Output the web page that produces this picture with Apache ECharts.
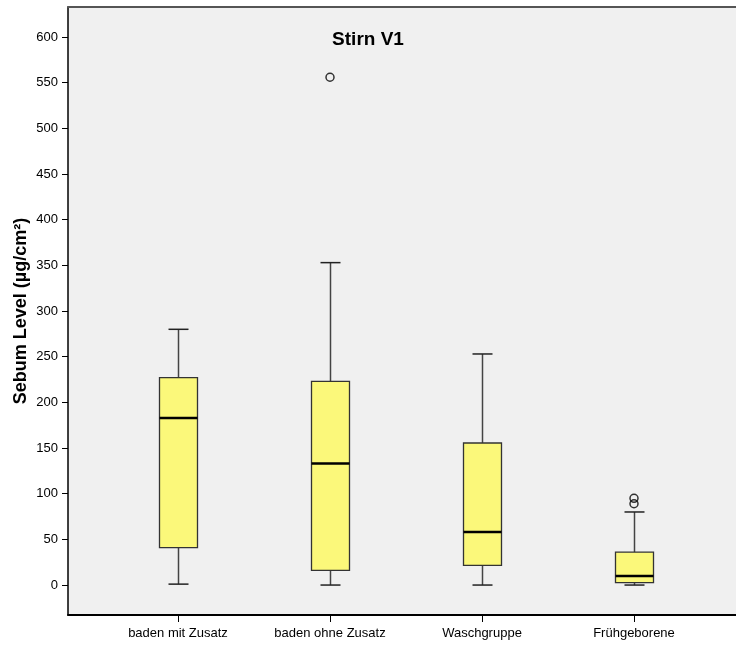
<!DOCTYPE html>
<html>
<head>
<meta charset="utf-8">
<style>
html,body{margin:0;padding:0;background:#fff;}
#chart{width:736px;height:646px;}
</style>
<script src="https://cdn.jsdelivr.net/npm/echarts@6/dist/echarts.min.js"></script>
</head>
<body>
<div id="chart"></div>
<script>
const categories = ['baden mit Zusatz', 'baden ohne Zusatz', 'Waschgruppe', 'Frühgeborene'];
// [min, Q1, median, Q3, max] per category
const boxMin    = [1, 0, 0, 0];
const boxQ1     = [41, 16, 21.5, 2.6];
const boxMedian = [183, 133, 58, 10];
const boxQ3     = [227, 223, 155.5, 36];
const boxMax    = [280, 353, 253, 80];
const outliers  = [[1, 556], [3, 95], [3, 89]];
const yTicks    = [0, 50, 100, 150, 200, 250, 300, 350, 400, 450, 500, 550, 600];
const titleText = 'Stirn V1';
const yName     = 'Sebum Level (µg/cm²)';

const FONT = "'Liberation Sans', Arial, Helvetica, sans-serif";
const Y_MIN = -32.8, Y_MAX = 632.9;

const boxData = categories.map((c, i) => [i, boxMin[i], boxQ1[i], boxMedian[i], boxQ3[i], boxMax[i]]);

const chart = echarts.init(document.getElementById('chart'), null, {renderer: 'canvas'});
chart.setOption({
  backgroundColor: '#ffffff',
  animation: false,
  title: {
    text: titleText,
    left: 'center',
    top: 30,
    padding: 0,
    textStyle: {fontFamily: FONT, fontSize: 19, fontWeight: 'bold', color: '#000'}
  },
  grid: [
    {left: 68, top: 7, right: 0, bottom: 31, show: true, backgroundColor: '#f0f0f0', borderWidth: 0},
    {left: 102, top: 7, right: 26, bottom: 31, show: false}
  ],
  xAxis: [
    {gridIndex: 0, type: 'value', min: 0, max: 1, position: 'bottom',
     axisLine: {show: true, onZero: false, lineStyle: {color: '#000', width: 2}},
     axisTick: {show: false}, axisLabel: {show: false}, splitLine: {show: false}},
    {gridIndex: 0, type: 'value', min: 0, max: 1, position: 'top',
     axisLine: {show: true, onZero: false, lineStyle: {color: '#555', width: 2}},
     axisTick: {show: false}, axisLabel: {show: false}, splitLine: {show: false}},
    {gridIndex: 1, type: 'category', data: categories, boundaryGap: true, position: 'bottom',
     axisLine: {show: false, onZero: false},
     axisTick: {show: true, alignWithLabel: true, length: 7, lineStyle: {color: '#000', width: 1}},
     axisLabel: {fontFamily: FONT, fontSize: 13, color: '#000', margin: 12},
     splitLine: {show: false}}
  ],
  yAxis: [
    {gridIndex: 0, type: 'value', min: Y_MIN, max: Y_MAX,
     name: yName, nameLocation: 'middle', nameGap: 38, nameRotate: 90, nameMoveOverlap: false,
     nameTextStyle: {fontFamily: FONT, fontSize: 18, fontWeight: 'bold', color: '#000'},
     axisLine: {show: true, onZero: false, lineStyle: {color: '#000', width: 1.5}},
     axisTick: {show: true, length: 6, customValues: yTicks, lineStyle: {color: '#000', width: 1}},
     axisLabel: {fontFamily: FONT, fontSize: 13, color: '#000', margin: 10, customValues: yTicks},
     splitLine: {show: false}},
    {gridIndex: 1, type: 'value', min: Y_MIN, max: Y_MAX, show: false, splitLine: {show: false}}
  ],
  series: [
    {
      type: 'custom',
      xAxisIndex: 2, yAxisIndex: 1,
      data: boxData,
      encode: {x: 0, y: [1, 2, 3, 4, 5]},
      renderItem: function (params, api) {
        const x = api.value(0);
        const pMin = api.coord([x, api.value(1)]);
        const pQ1 = api.coord([x, api.value(2)]);
        const pMed = api.coord([x, api.value(3)]);
        const pQ3 = api.coord([x, api.value(4)]);
        const pMax = api.coord([x, api.value(5)]);
        const cx = Math.round(pMed[0]) + 0.5;
        const bw = 38, cw = 20;
        const wStyle = {stroke: '#444', lineWidth: 1.5};
        const capStyle = {stroke: '#222', lineWidth: 1.5};
        return {
          type: 'group',
          children: [
            {type: 'line', shape: {x1: cx, y1: pMax[1], x2: cx, y2: pQ3[1]}, style: wStyle},
            {type: 'line', shape: {x1: cx, y1: pQ1[1], x2: cx, y2: pMin[1]}, style: wStyle},
            {type: 'line', shape: {x1: cx - cw / 2, y1: pMax[1], x2: cx + cw / 2, y2: pMax[1]}, style: capStyle},
            {type: 'line', shape: {x1: cx - cw / 2, y1: pMin[1], x2: cx + cw / 2, y2: pMin[1]}, style: capStyle},
            {type: 'rect', shape: {x: cx - bw / 2, y: pQ3[1], width: bw, height: pQ1[1] - pQ3[1]},
             style: {fill: '#fbf87a', stroke: '#333', lineWidth: 1.3}},
            {type: 'line', shape: {x1: cx - bw / 2, y1: pMed[1], x2: cx + bw / 2, y2: pMed[1]},
             style: {stroke: '#000', lineWidth: 2.5}}
          ]
        };
      }
    },
    {
      type: 'scatter',
      xAxisIndex: 2, yAxisIndex: 1,
      data: outliers,
      symbol: 'circle',
      symbolSize: 8,
      itemStyle: {color: 'rgba(0,0,0,0)', borderColor: '#000', borderWidth: 1.5}
    }
  ]
});
</script>
</body>
</html>
